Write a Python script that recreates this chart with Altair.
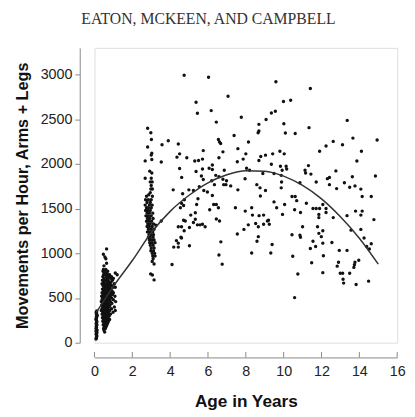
import altair as alt
import pandas as pd

# ---- data ----
# newborn column (age ~0.1 yr)
newborn_age = [0.08,0.10,0.12,0.09,0.11,0.14,0.08,0.10,0.13,0.09,0.12,0.10,0.08,0.11,0.14,
               0.10,0.09,0.12,0.10,0.13,0.08,0.11,0.10,0.12,0.09,0.10,0.14,0.11,0.10,0.12]
newborn_val = [40,60,80,100,120,140,160,180,200,215,230,250,265,280,300,
               320,340,355,90,110,130,170,190,240,260,290,310,335,50,70]

# infants (0.35 - 1.2 yr): value bands with the ages seen in each band
infant_rows = [
    (1050,[0.64]),(990,[0.47]),(960,[0.55]),(940,[0.60]),(890,[0.64]),(860,[0.50]),
    (820,[0.47,0.60]),(800,[0.55,0.70,0.45]),(780,[1.10,0.52,0.65]),
    (760,[1.20,0.48,0.58,0.70,0.80]),(740,[0.44,0.62,0.75,0.90]),
    (720,[0.50,0.68,0.85,1.00]),(700,[0.42,0.55,0.60,0.72,0.95]),
    (680,[0.48,0.66,0.78,0.88]),(660,[0.40,0.52,0.62,0.70,0.82,1.05]),
    (640,[0.45,0.57,0.68,0.75,0.90]),(620,[0.50,0.60,0.72,0.80,0.98,1.10]),
    (600,[0.42,0.55,0.65,0.77,0.86]),(580,[0.47,0.58,0.70,0.82,0.93]),
    (560,[0.40,0.52,0.63,0.74,0.88,1.00]),(540,[0.45,0.56,0.67,0.78,0.95]),
    (520,[0.38,0.50,0.60,0.72,0.84,1.08]),(500,[0.44,0.55,0.65,0.76,0.90]),
    (480,[0.40,0.50,0.62,0.70,0.80,1.00]),(460,[0.36,0.47,0.58,0.68,0.85,1.12]),
    (440,[0.42,0.53,0.64,0.75,0.92]),(420,[0.38,0.50,0.60,0.72,0.82]),
    (400,[0.45,0.56,0.66,0.78,1.05]),(380,[0.40,0.52,0.62,0.70,0.90]),
    (360,[0.36,0.48,0.58,0.68,0.80,1.10]),(340,[0.44,0.55,0.65,0.75,0.98]),
    (320,[0.40,0.50,0.60,0.70,0.85]),(300,[0.46,0.56,0.66,0.78]),
    (280,[0.42,0.52,0.62,0.72]),(260,[0.48,0.58,0.68,0.80]),
    (240,[0.44,0.55,0.65,0.74]),(220,[0.50,0.60,0.70]),(200,[0.46,0.56,0.66]),
    (180,[0.52,0.62]),(160,[0.48,0.58]),(140,[0.50]),(120,[0.54]),
]

# three-year-olds (2.6 - 3.25 yr)
toddler_rows = [
    (2400,[2.81]),(2350,[2.98]),(2275,[3.01]),(2190,[2.81]),(2120,[3.03]),(2100,[3.00]),
    (2035,[2.68]),(2050,[3.03]),(1920,[2.92]),(1900,[3.03]),(1840,[2.68,3.00]),
    (1800,[2.95,3.05]),(1760,[3.00]),(1720,[2.98,3.06]),(1680,[2.95]),(1656,[2.87]),
    (1640,[3.06,2.75]),(1600,[2.70,2.85,3.00]),(1570,[2.78,2.95]),(1540,[2.68,2.90,3.05]),
    (1510,[2.75,2.85,3.00]),(1480,[2.70,2.82,2.95]),(1450,[2.78,2.90,3.08]),
    (1420,[2.72,2.85,3.00]),(1390,[2.80,2.92,3.10]),(1360,[2.75,2.88,3.02]),
    (1330,[2.82,2.95,3.12]),(1300,[2.78,2.90,3.05]),(1270,[2.85,3.00,3.15]),
    (1240,[2.80,2.92,3.08]),(1210,[2.88,3.00,3.12]),(1180,[2.85,2.95,3.10]),
    (1150,[2.90,3.02,3.15]),(1120,[2.92,3.05,3.20]),(1090,[2.95,3.10]),
    (1060,[3.00,3.15]),(1030,[2.98,3.12]),(1000,[3.05,3.18]),(970,[3.08,3.20]),
    (940,[3.10]),(910,[3.05]),(880,[3.15]),(770,[2.97]),(758,[3.06]),(703,[3.15]),
]

# older children, scattered (age, value)
older_pts = [
    (4.74,2993),(6.03,2971),(9.59,2920),(7.06,2758),(5.37,2692),(9.99,2700),(6.17,2598),
    (5.44,2568),(9.56,2590),(9.35,2571),(7.76,2524),(9.07,2499),(6.44,2469),(8.69,2444),
    (10.01,2451),(8.69,2370),(8.65,2350),(7.38,2319),(6.55,2275),(6.61,2246),(6.67,2230),
    (8.14,2246),(4.43,2224),(7.58,2172),(5.75,2150),(6.79,2136),(4.50,2114),(4.88,2070),
    (8.00,2114),(8.79,2084),(9.04,2099),(9.42,2114),(9.80,2143),(5.30,2033),(5.50,2040),
    (5.71,2055),(6.58,2070),(7.55,2026),(7.86,2055),(8.69,2040),(4.50,1949),(5.37,1916),
    (5.71,1945),(6.06,1953),(6.23,1989),(6.23,1938),(6.86,1931),(8.04,1953),(8.20,1931),
    (9.35,1997),(9.83,1975),(4.61,1850),(5.65,1865),(6.41,1873),(6.58,1858),(7.96,1835),
    (8.90,1894),(9.49,1894),(9.87,1873),(4.99,1711),(5.54,1747),(5.75,1826),(6.20,1813),
    (6.34,1769),(6.79,1829),(6.98,1813),(6.83,1769),(6.95,1769),(7.20,1755),(5.78,1703),
    (8.58,1769),(8.75,1733),(9.04,1703),(7.58,1711),(9.87,1733),
    (3.57,2216),(3.90,2260),(3.53,2022),(4.36,2077),(4.16,1711),(4.66,1667),(5.23,1703),
    (5.97,1686),
    (5.47,1612),(6.23,1648),(5.40,1546),(4.54,1510),(5.33,1455),(5.09,1428),(4.71,1370),
    (5.33,1381),(5.44,1319),(5.58,1319),(5.71,1326),(5.85,1297),(6.09,1488),(6.30,1546),
    (6.44,1546),(6.55,1510),(6.44,1385),(6.61,1363),(4.43,1297),(4.60,1297),(5.02,1290),
    (4.74,1253),(4.60,1172),(4.43,1114),(4.43,1070),(5.02,1085),(6.68,1129),(6.58,982),
    (6.75,879),(7.45,1510),(7.97,1473),(8.31,1510),(8.35,1428),(8.13,1319),(7.90,1268),
    (7.55,1216),(8.52,1334),(8.70,1422),(8.94,1428),(8.66,1297),(8.94,1326),(9.14,1363),
    (9.24,1326),(9.20,1370),(9.49,1576),(9.63,1510),(9.94,1436),(10.05,1546),(8.66,1187),
    (8.59,1136),(9.39,1099),(9.32,1004),(8.31,1004),(8.77,1642),
    (4.10,876),(4.19,1070),(4.33,1143),(3.53,1363),(3.24,1315),(4.80,1363),(5.23,1345),
    (4.71,1535),(4.57,1180),(4.60,1560),(4.75,1600),
    (11.41,2846),(10.37,2714),(10.09,2348),(10.61,2341),(11.34,2407),(13.36,2488),
    (14.94,2268),(13.66,2290),(12.62,2253),(12.24,2202),(13.11,2216),(11.90,2143),
    (14.11,2143),(10.03,2114),(13.87,2033),(11.31,1982),(10.13,1975),(10.16,1945),
    (9.92,1931),(11.13,1931),(11.16,1900),(11.44,1887),(12.76,1923),(14.85,1865),
    (13.63,1857),(12.42,1850),(12.31,1836),(11.72,1799),(10.86,1791),(12.42,1769),
    (13.21,1791),(12.80,1725),(13.49,1740),(13.77,1755),(14.08,1719),(10.44,1637),
    (10.61,1637),(14.15,1637),(14.63,1637),(9.89,1799),
    (10.69,1590),(11.20,1560),(11.55,1502),(11.72,1502),(11.90,1502),(12.07,1546),
    (12.24,1502),(12.24,1458),(11.86,1436),(11.86,1400),(10.58,1488),(10.89,1458),
    (12.62,1400),(13.35,1422),(13.80,1473),(14.15,1473),(14.08,1428),(14.77,1378),
    (11.79,1297),(12.07,1253),(11.00,1297),(10.44,1209),(10.86,1202),(10.89,1180),
    (11.86,1224),(11.99,1187),(11.55,1136),(11.69,1077),(12.07,1114),(12.55,1121),
    (13.56,1260),(14.08,1268),(14.25,1172),(14.63,1107),(14.39,1077),(11.41,1055),
    (12.94,1033),(13.35,1033),(14.53,1048),(10.48,967),(12.10,974),(13.97,923),
    (13.77,901),(13.74,872),(13.71,843),(12.90,901),(12.83,857),(11.48,894),(12.99,777),
    (13.12,777),(13.49,777),(12.07,784),(10.75,769),(13.14,711),(13.17,667),(13.83,652),
    (14.49,689),(10.58,505),
]

# fitted curve
curve_age = [0.1,1,2,3,4,5,6,7,8,9,10,11,12,13,14,15]
curve_val = [340,630,920,1230,1470,1650,1790,1880,1925,1920,1865,1760,1610,1410,1170,880]

x_ticks = [0,2,4,6,8,10,12,14,16]
y_ticks = [0,500,1000,1500,2000,2500,3000]
header = "EATON, MCKEEN, AND CAMPBELL"

# ---- tables ----
ages, vals = list(newborn_age), list(newborn_val)
for v, al in infant_rows + toddler_rows:
    for a in al:
        ages.append(a); vals.append(v)
for a, v in older_pts:
    ages.append(a); vals.append(v)
pts = pd.DataFrame({"age": ages, "val": vals})
curve = pd.DataFrame({"age": curve_age, "val": curve_val})
ticks = pd.DataFrame({"age": x_ticks})
head = pd.DataFrame({"h": [header]})

FONT = "Liberation Sans"
xs = alt.Scale(domain=[0, 16], nice=False, zero=False)
ys = alt.Scale(domain=[0, 3300], nice=False)

xaxis = alt.Axis(values=x_ticks, tickCount=9, offset=15, ticks=False, labelPadding=7,
                 labelOverlap=False, labelFlush=False, format="d",
                 labelFontSize=14.5, labelFont=FONT, labelColor="#222",
                 domainColor="#888", grid=False, title="Age in Years",
                 titleFont=FONT, titleFontSize=17.5, titleFontWeight="bold",
                 titleColor="#111", titlePadding=15)
yaxis = alt.Axis(values=y_ticks, offset=15, tickSize=5, tickColor="#888",
                 labelOverlap=False, labelFlush=False, format="d",
                 labelPadding=3, labelFontSize=14.5, labelFont=FONT, labelColor="#222",
                 domainColor="#888", grid=False,
                 title="Movements per Hour, Arms + Legs",
                 titleFont=FONT, titleFontSize=16.5, titleFontWeight="bold",
                 titleColor="#111", titlePadding=10)

X = alt.X("age:Q", scale=xs, axis=xaxis)
Y = alt.Y("val:Q", scale=ys, axis=yaxis)

dots = alt.Chart(pts).mark_circle(size=12, color="#111", opacity=1).encode(x=X, y=Y)
line = alt.Chart(curve).mark_line(color="#333", strokeWidth=1.5,
                                  interpolate="monotone").encode(x=X, y=Y)
xt = alt.Chart(ticks).mark_rule(color="#888", strokeWidth=1).encode(
    x=X, y=alt.value(309.5), y2=alt.value(315))
title = alt.Chart(head).mark_text(font="Liberation Serif", fontSize=16,
                                  color="#333", align="center",
                                  baseline="alphabetic").encode(
    text="h:N", x=alt.value(116), y=alt.value(-24.5))

chart = alt.layer(dots, line, xt, title).properties(
    width=308, height=300, autosize="none",
    padding={"left": 88, "top": 37, "right": 10, "bottom": 70},
).configure_view(stroke=None).configure(background="white")

chart.save("out.html", embed_options={"renderer": "svg", "actions": False})
